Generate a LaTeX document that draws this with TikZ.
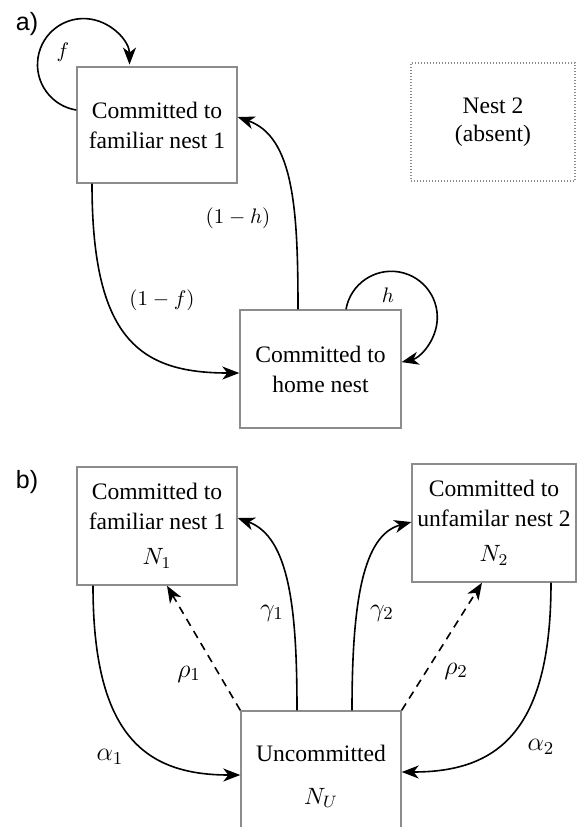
\RequirePackage{fix-cm}
\documentclass[tikz,border=0pt]{standalone}
\usepackage[no-math]{fontspec}
\setmainfont{Liberation Serif}
\newfontfamily\labfont{Liberation Sans}
\usetikzlibrary{arrows.meta}
\definecolor{boxgray}{RGB}{140,140,140}
\tikzset{
  statebox/.style={draw=boxgray, line width=0.7pt, inner sep=0pt, align=center,
    font=\fontsize{11.8}{15}\selectfont},
  ghostbox/.style={draw=boxgray, line width=0.6pt, dash pattern=on 0.6pt off 0.9pt,
    inner sep=0pt, align=center, font=\fontsize{11.8}{14}\selectfont},
  edge/.style={line width=0.8pt, -{Stealth[length=8.5pt,width=6.5pt,inset=2.5pt]}},
  dedge/.style={edge, dash pattern=on 4pt off 3pt},
  lab/.style={font=\fontsize{10.5}{12}\selectfont, inner sep=0pt},
  glab/.style={font=\fontsize{13}{15}\selectfont, inner sep=0pt},
  tag/.style={font=\labfont\fontsize{12.5}{14}\selectfont, inner sep=0pt}
}
\begin{document}
\begin{tikzpicture}[x=0.5pt,y=0.5pt]
\useasboundingbox (0,0) rectangle (578,-827);
\clip (0,0) rectangle (578,-827);

% ---------------- panel a ----------------
\node[tag] (ta) at (27,-24) {a)};
\node[statebox, minimum width=80pt, minimum height=58pt] (a1) at (157,-125)
  {Committed to\\familiar nest 1};
\node[ghostbox, minimum width=82pt, minimum height=59pt] (nest2) at (493,-122)
  {Nest 2\\(absent)};
\node[statebox, minimum width=80.5pt, minimum height=59pt] (home) at (320.5,-369)
  {Committed to\\home nest};

\draw[edge] ([yshift=7.5pt]a1.west) arc[start angle=261, end angle=0, radius=23pt];
\draw[edge] ([xshift=12.75pt]home.north) arc[start angle=170, end angle=-77, radius=23pt];
\draw[edge] ([xshift=-32.5pt]a1.south) .. controls +(0,-155) and +(-100,0) .. ([yshift=-2pt]home.west);
\draw[edge] ([xshift=-11.25pt]home.north) .. controls +(0,100) and +(56,-20) .. ([yshift=4pt]a1.east);

\node[lab] (lf) at (63,-52) {$f$};
\node[lab] (lh) at (388,-295) {$h$};
\node[lab] (l1f) at (162,-300) {$(1-f)$};
\node[lab] (l1h) at (238,-218) {$(1-h)$};

% ---------------- panel b ----------------
\node[tag] (tb) at (27,-482) {b)};
\node[statebox, minimum width=80pt, minimum height=59pt] (n1) at (157,-526)
  {Committed to\\familiar nest 1\\[2.5pt]$N_1$};
\node[statebox, minimum width=82pt, minimum height=59pt] (n2) at (494,-523)
  {Committed to\\unfamilar nest 2\\[2.5pt]$N_2$};
\node[statebox, minimum width=80pt, minimum height=65.5pt] (u) at (321,-776.5)
  {Uncommitted\\[6.5pt]$N_U$};

\draw[edge] ([xshift=-12pt]u.north) .. controls +(0,100) and +(52,-19) .. ([yshift=4pt]n1.east);
\draw[edge] ([xshift=15.5pt]u.north) .. controls +(0,110) and +(-48,-13) .. ([yshift=0.5pt]n2.west);
\draw[dedge] (u.north west) -- ([xshift=5pt]n1.south);
\draw[dedge] (u.north east) -- ([xshift=-6pt]n2.south);
\draw[edge] ([xshift=-32pt]n1.south) .. controls +(0,-150) and +(-95,0) .. ([yshift=0.75pt]u.west);
\draw[edge] ([xshift=28.5pt]n2.south) .. controls +(0,-150) and +(95,0) .. ([yshift=2.25pt]u.east);

\node[glab] (lg1) at (272,-613) {$\gamma_1$};
\node[glab] (lg2) at (382,-613) {$\gamma_2$};
\node[glab] (lr1) at (189,-674) {$\rho_1$};
\node[glab] (lr2) at (456,-671) {$\rho_2$};
\node[glab] (la1) at (110,-757) {$\alpha_1$};
\node[glab] (la2) at (541,-747) {$\alpha_2$};
\end{tikzpicture}
\end{document}
